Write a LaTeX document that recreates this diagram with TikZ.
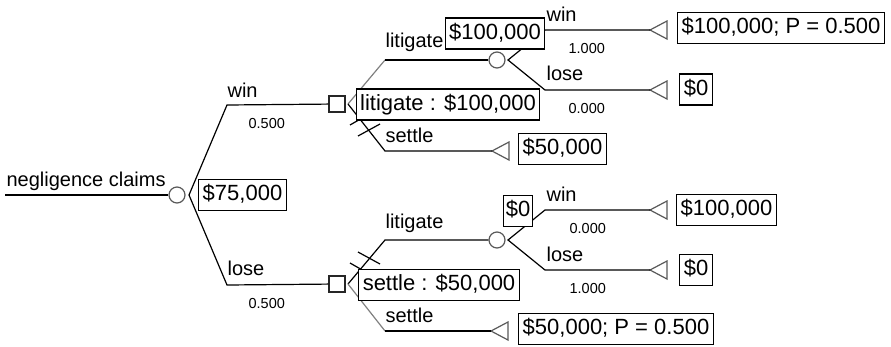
\documentclass[tikz,border=0pt]{standalone}
\usepackage{fontspec}
\setmainfont{Liberation Sans}
\usetikzlibrary{shapes.geometric}
\begin{document}
\begin{tikzpicture}[x=1bp,y=-1bp,line width=1.2bp,line cap=butt,
  lbl/.style={font=\fontsize{20bp}{24bp}\selectfont,inner sep=0pt,anchor=base west},
  prob/.style={font=\fontsize{14.5bp}{17bp}\selectfont,inner sep=0pt,anchor=base west},
  valbox/.style={draw=black,fill=white,font=\fontsize{22bp}{26bp}\selectfont,inner xsep=4bp,inner ysep=5bp,text height=16bp,text depth=5bp},
  chance/.style={circle,draw=black!65,fill=white,minimum size=16bp,inner sep=0pt},
  decision/.style={rectangle,draw=black!85,fill=white,minimum size=16bp,inner sep=0pt},
  terminal/.style={draw=black!65,line width=1.2bp,line join=miter},
  chosen/.style={draw=black!50}]
\useasboundingbox (0,0) rectangle (891,346);
% coordinates
\coordinate (start) at (5,195);
\coordinate (a0) at (189,195);
\coordinate (w0) at (227,105);
\coordinate (l0) at (227,285);
\coordinate (a1) at (348,104);
\coordinate (a2) at (348,284);
\coordinate (k1) at (385,60);
\coordinate (s1) at (385,151);
\coordinate (k2) at (385,240);
\coordinate (s2) at (385,331);
\coordinate (a3) at (508,60);
\coordinate (a4) at (508,240);
\coordinate (w3) at (545,30);
\coordinate (l3) at (545,90);
\coordinate (w4) at (545,210);
\coordinate (l4) at (545,270);
\coordinate (h1a) at (358,136);
\coordinate (h1b) at (380,124);
\coordinate (h1c) at (350,125);
\coordinate (h1d) at (371,113);
\coordinate (h2a) at (358,252);
\coordinate (h2b) at (380,264);
\coordinate (h2c) at (350,263);
\coordinate (h2d) at (371,275);
% terminal tips
\coordinate (t1) at (650,30);
\coordinate (t2) at (650,90);
\coordinate (t3) at (492,151);
\coordinate (t4) at (650,210);
\coordinate (t5) at (650,270);
\coordinate (t6) at (491,331);
% nodes
\node[chance] (c0) at (177,195) {};
\node[decision] (d1) at (337,104) {};
\node[decision] (d2) at (337,284) {};
\node[chance] (c1) at (497,60) {};
\node[chance] (c2) at (497,240) {};
% terminal triangles
\foreach \t in {t1,t2,t3,t4,t5,t6}
  \draw[terminal] (\t) -- ++(17,-9) -- ++(0,18) -- cycle;
% connectors
\draw (start) -- (c0);
\draw (d1) -- (w0) -- (a0) -- (l0) -- (d2);
\draw[chosen] (a1) -- (k1);
\draw (k1) -- (c1);
\draw (a1) -- (s1) -- (t3);
\draw (h1a) -- (h1b);
\draw (h1c) -- (h1d);
\draw (a2) -- (k2) -- (c2);
\draw[chosen] (a2) -- (s2);
\draw (s2) -- (t6);
\draw (h2a) -- (h2b);
\draw (h2c) -- (h2d);
\draw (t1) -- (w3) -- (a3) -- (l3) -- (t2);
\draw (t4) -- (w4) -- (a4) -- (l4) -- (t5);
% labels
\node[lbl] (n0) at (6,186) {negligence claims};
\node[lbl] (lw0) at (227,97) {win};
\node[prob] (pw0) at (248,128) {0.500};
\node[lbl] (ll0) at (227,275) {lose};
\node[prob] (pl0) at (248,308) {0.500};
\node[lbl] (lk1) at (385,47) {litigate};
\node[lbl] (ls1) at (385,142) {settle};
\node[lbl] (lk2) at (385,228) {litigate};
\node[lbl] (ls2) at (385,322) {settle};
\node[lbl] (lw3) at (546,21) {win};
\node[prob] (pw3) at (568,53) {1.000};
\node[lbl] (ll3) at (546,80) {lose};
\node[prob] (pl3) at (568,113) {0.000};
\node[lbl] (lw4) at (546,201) {win};
\node[prob] (pw4) at (569,233) {0.000};
\node[lbl] (ll4) at (546,261) {lose};
\node[prob] (pl4) at (569,293) {1.000};
% value boxes
\node[valbox] (v0) at (242.5,195) {\$75,000};
\node[valbox] (v1) at (495,33.5) {\$100,000};
\node[valbox] (v2) at (448,104.5) {litigate : \$100,000};
\node[valbox] (v3) at (781,28) {\$100,000; P = 0.500};
\node[valbox] (v4) at (696,89.5) {\$0};
\node[valbox] (v5) at (562.5,149) {\$50,000};
\node[valbox,inner xsep=2.5bp] (v6) at (518,211) {\$0};
\node[valbox] (v7) at (439,285) {settle : \$50,000};
\node[valbox] (v8) at (726.5,210) {\$100,000};
\node[valbox] (v9) at (696,270) {\$0};
\node[valbox] (v10) at (616,329) {\$50,000; P = 0.500};
\end{tikzpicture}
\end{document}
